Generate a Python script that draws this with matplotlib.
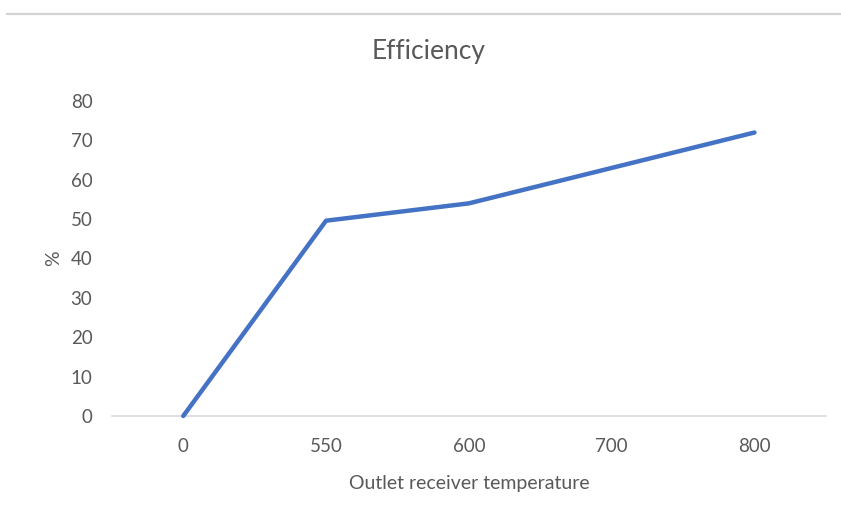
import matplotlib.pyplot as plt
from matplotlib.lines import Line2D

# chart data
temperatures = ['0', '550', '600', '700', '800']
efficiency = [0, 49.6, 54, 63, 72]
y_ticks = [0, 10, 20, 30, 40, 50, 60, 70, 80]

plt.rcParams['font.family'] = ['Lato', 'DejaVu Sans']
text_grey = '#595959'

fig = plt.figure(figsize=(8.41, 5.14), dpi=100)
ax = fig.add_axes([0.133, 0.1907, 0.849, 0.6128])

x = range(len(temperatures))
ax.plot(x, efficiency, color='#4472C4', linewidth=3.2, solid_capstyle='round',
        solid_joinstyle='round', clip_on=False, zorder=3)

ax.set_xlim(-0.5, len(temperatures) - 0.5)
ax.set_ylim(0, 80)
ax.set_xticks(list(x))
ax.set_xticklabels(temperatures)
ax.set_yticks(y_ticks)

for side in ['top', 'right', 'left']:
    ax.spines[side].set_visible(False)
ax.spines['bottom'].set_color('#D9D9D9')
ax.spines['bottom'].set_linewidth(1.2)

ax.tick_params(axis='x', length=0, pad=16, labelsize=13.5, labelcolor=text_grey)
ax.tick_params(axis='y', length=0, pad=14, labelsize=13.5, labelcolor=text_grey)

ax.set_xlabel('Outlet receiver temperature', fontsize=14, color=text_grey, labelpad=14)
ax.set_ylabel('%', fontsize=14, color=text_grey, labelpad=6)

# title is centred on the whole chart, not the plot area
fig.text(429 / 841, 1 - 59 / 514, 'Efficiency', fontsize=19, color=text_grey,
         ha='center', va='baseline')

# grey separator line at the top of the screenshot
fig.add_artist(Line2D([0.008, 1.0], [1 - 13.5 / 514, 1 - 13.5 / 514],
                      transform=fig.transFigure, color='#D4D4D4', linewidth=1.6))

fig.savefig('out.png', dpi=100)
